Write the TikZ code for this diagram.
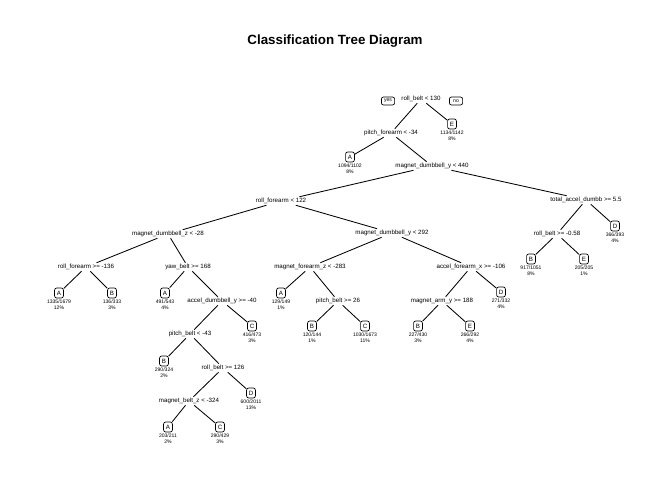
\documentclass[tikz,border=0pt]{standalone}
\usepackage{fontspec}
\setmainfont{Liberation Sans}
\usepackage{tikz}

\begin{document}
\begin{tikzpicture}[
    x=0.025cm, y=-0.025cm,
    font=\fontsize{4.4}{5.3}\selectfont,
    split/.style={inner sep=0.8pt},
    leaf/.style={draw, rounded corners=1.5pt, fill=white, line width=0.5pt,
                 minimum width=0.22cm, minimum height=0.25cm, inner sep=0.5pt},
    stat/.style={align=center, font=\fontsize{3.6}{4.3}\selectfont, inner sep=0.5pt},
    tag/.style={draw, rounded corners=1.5pt, line width=0.5pt, font=\fontsize{3.6}{4.3}\selectfont,
                minimum width=0.33cm, minimum height=0.2cm, inner sep=0.8pt},
    edge/.style={line width=0.6pt}
]
\useasboundingbox (0,0) rectangle (672,480);

% --- Title ---
\node[font=\bfseries\fontsize{9.5}{11}\selectfont] (title) at (335,41) {Classification Tree Diagram};

% --- Splits ---
\node[split] (root)  at (421,99)  {roll\_belt < 130};
\node[tag]   (yes)   at (388,101) {yes};
\node[tag]   (no)    at (456,101) {no};
\node[split] (pf)    at (391,133) {pitch\_forearm < -34};
\node[split] (mdy1)  at (432,166) {magnet\_dumbbell\_y < 440};
\node[split] (rf)    at (281,201) {roll\_forearm < 122};
\node[split] (tad)   at (586,200) {total\_accel\_dumbb >= 5.5};
\node[split] (rb1)   at (557,234) {roll\_belt >= -0.58};
\node[split] (mdz)   at (168,234) {magnet\_dumbbell\_z < -28};
\node[split] (mdy2)  at (392,233) {magnet\_dumbbell\_y < 292};
\node[split] (rf2)   at (86,267)  {roll\_forearm >= -136};
\node[split] (yb)    at (188,267) {yaw\_belt >= 168};
\node[split] (mfz)   at (310,267) {magnet\_forearm\_z < -283};
\node[split] (afx)   at (471,267) {accel\_forearm\_x >= -106};
\node[split] (ady)   at (222,301) {accel\_dumbbell\_y >= -40};
\node[split] (pb1)   at (338,301) {pitch\_belt >= 26};
\node[split] (may)   at (442,301) {magnet\_arm\_y >= 188};
\node[split] (pb2)   at (190,334) {pitch\_belt < -43};
\node[split] (rb2)   at (223,368) {roll\_belt >= 126};
\node[split] (mbz)   at (189,401) {magnet\_belt\_z < -324};

% --- Leaves ---
\node[leaf, label={[stat]below:1134/1142\\8\%}] (lE1) at (452,124) {E};
\node[leaf, label={[stat]below:1094/1102\\8\%}] (lA1) at (350,157) {A};
\node[leaf, label={[stat]below:366/393\\4\%}]   (lD1) at (615,226) {D};
\node[leaf, label={[stat]below:917/1051\\8\%}]  (lB1) at (531,259) {B};
\node[leaf, label={[stat]below:205/205\\1\%}]   (lE2) at (584,259) {E};
\node[leaf, label={[stat]below:1335/1679\\12\%}] (lA2) at (59,293) {A};
\node[leaf, label={[stat]below:136/333\\3\%}]   (lB2) at (112,293) {B};
\node[leaf, label={[stat]below:491/543\\4\%}]   (lA3) at (165,293) {A};
\node[leaf, label={[stat]below:129/149\\1\%}]   (lA4) at (281,293) {A};
\node[leaf, label={[stat]below:271/332\\4\%}]   (lD2) at (501,292) {D};
\node[leaf, label={[stat]below:416/473\\3\%}]   (lC1) at (252,326) {C};
\node[leaf, label={[stat]below:120/144\\1\%}]   (lB3) at (312,326) {B};
\node[leaf, label={[stat]below:1030/1673\\11\%}] (lC2) at (365,326) {C};
\node[leaf, label={[stat]below:227/430\\3\%}]   (lB4) at (418,326) {B};
\node[leaf, label={[stat]below:266/292\\4\%}]   (lE3) at (470,326) {E};
\node[leaf, label={[stat]below:290/324\\2\%}]   (lB5) at (164,361) {B};
\node[leaf, label={[stat]below:600/2011\\13\%}] (lD3) at (251,393) {D};
\node[leaf, label={[stat]below:203/211\\2\%}]   (lA5) at (168,427) {A};
\node[leaf, label={[stat]below:290/429\\3\%}]   (lC3) at (220,427) {C};

% --- Branches ---
\draw[edge] (root) -- (pf);
\draw[edge] (root) -- (lE1);
\draw[edge] (pf) -- (lA1);
\draw[edge] (pf) -- (mdy1);
\draw[edge] (mdy1) -- (rf);
\draw[edge] (mdy1) -- (tad);
\draw[edge] (tad) -- (rb1);
\draw[edge] (tad) -- (lD1);
\draw[edge] (rb1) -- (lB1);
\draw[edge] (rb1) -- (lE2);
\draw[edge] (rf) -- (mdz);
\draw[edge] (rf) -- (mdy2);
\draw[edge] (mdz) -- (rf2);
\draw[edge] (mdz) -- (yb);
\draw[edge] (rf2) -- (lA2);
\draw[edge] (rf2) -- (lB2);
\draw[edge] (yb) -- (lA3);
\draw[edge] (yb) -- (ady);
\draw[edge] (ady) -- (pb2);
\draw[edge] (ady) -- (lC1);
\draw[edge] (pb2) -- (lB5);
\draw[edge] (pb2) -- (rb2);
\draw[edge] (rb2) -- (mbz);
\draw[edge] (rb2) -- (lD3);
\draw[edge] (mbz) -- (lA5);
\draw[edge] (mbz) -- (lC3);
\draw[edge] (mdy2) -- (mfz);
\draw[edge] (mdy2) -- (afx);
\draw[edge] (mfz) -- (lA4);
\draw[edge] (mfz) -- (pb1);
\draw[edge] (pb1) -- (lB3);
\draw[edge] (pb1) -- (lC2);
\draw[edge] (afx) -- (may);
\draw[edge] (afx) -- (lD2);
\draw[edge] (may) -- (lB4);
\draw[edge] (may) -- (lE3);

\end{tikzpicture}
\end{document}
